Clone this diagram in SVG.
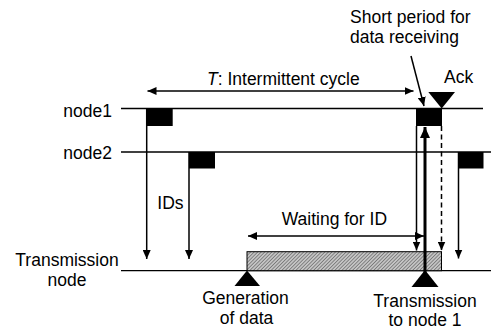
<svg xmlns="http://www.w3.org/2000/svg" width="491" height="331" viewBox="0 0 491 331">
<style>
text{font-family:"Liberation Sans",Arial,sans-serif;font-size:17.5px;fill:#000}
.ln{stroke:#000;stroke-width:1.3;fill:none}
.ar{stroke:#000;stroke-width:1.5;fill:none}
.box{fill:#000}
</style>
<defs>
<marker id="ah" markerUnits="userSpaceOnUse" markerWidth="10" markerHeight="8" refX="9" refY="4" orient="auto">
<path d="M0,0 L9,4 L0,8 Z" fill="#000"/>
</marker>
<marker id="ahs" markerUnits="userSpaceOnUse" markerWidth="10" markerHeight="8" refX="1" refY="4" orient="auto">
<path d="M10,0 L1,4 L10,8 Z" fill="#000"/>
</marker>
<marker id="ahb" markerUnits="userSpaceOnUse" markerWidth="12" markerHeight="12" refX="11" refY="6" orient="auto">
<path d="M0,1 L11,6 L0,11 Z" fill="#000"/>
</marker>
<pattern id="hatch" patternUnits="userSpaceOnUse" width="2.5" height="2.5" patternTransform="rotate(45)">
<rect width="2.5" height="2.5" fill="#c4c4c4"/>
<line x1="0" y1="0" x2="0" y2="2.5" stroke="#444" stroke-width="1"/>
</pattern>
</defs>

<g id="lanes">
<line class="ln" x1="121" y1="108.5" x2="483" y2="108.5"/>
<line class="ln" x1="121" y1="152" x2="491" y2="152"/>
<line class="ln" x1="121" y1="270.7" x2="491" y2="270.7"/>
</g>

<g id="labels">
<text x="112" y="116.5" text-anchor="end">node1</text>
<text x="112" y="159" text-anchor="end">node2</text>
<text x="67" y="266" text-anchor="middle">Transmission</text>
<text x="67" y="286" text-anchor="middle">node</text>
</g>

<g id="wait-bar">
<rect x="247" y="251.7" width="194.5" height="19" fill="url(#hatch)" stroke="#000" stroke-width="1"/>
</g>

<g id="node1-slot1"><rect class="box" x="146.7" y="108.5" width="26" height="17.5"/></g>
<g id="node2-slot1"><rect class="box" x="189" y="152" width="26" height="16.5"/></g>
<g id="node1-slot2"><rect class="box" x="416" y="108.5" width="26" height="17.5"/></g>
<g id="node2-slot2"><rect class="box" x="458" y="152" width="25.5" height="16.5"/></g>

<g id="ack"><polygon points="428.3,92 455,92 441.7,108.5" fill="#000"/><text x="444" y="82.7">Ack</text></g>

<g id="generation">
<polygon points="247,270.5 234.5,286 260,286" fill="#000"/>
<text x="245.5" y="304" text-anchor="middle">Generation</text>
<text x="246.5" y="324" text-anchor="middle">of data</text>
</g>

<g id="transmission">
<polygon points="425,270 411.5,287 438.5,287" fill="#000"/>
<text x="425" y="306.7" text-anchor="middle">Transmission</text>
<text x="425" y="326" text-anchor="middle">to node 1</text>
</g>

<g id="annotations">
<text x="207" y="85"><tspan font-style="italic">T</tspan>: Intermittent cycle</text>
<text x="350" y="23">Short period for</text>
<text x="350" y="43">data receiving</text>
<text x="157.3" y="209.3">IDs</text>
<text x="281.7" y="225">Waiting for ID</text>
</g>

<g id="connectors">
<line class="ar" x1="147.5" y1="91" x2="413.5" y2="91" marker-start="url(#ahs)" marker-end="url(#ah)"/>
<line class="ar" x1="248" y1="236" x2="424" y2="236" marker-start="url(#ahs)" marker-end="url(#ah)"/>
<line class="ar" x1="146.7" y1="108.5" x2="146.7" y2="259" marker-end="url(#ah)"/>
<line class="ar" x1="189" y1="152" x2="189" y2="259" marker-end="url(#ah)"/>
<line class="ar" x1="416.5" y1="126" x2="416.5" y2="250.5" marker-end="url(#ah)"/>
<line class="ar" x1="441.5" y1="126" x2="441.5" y2="250.5" stroke-dasharray="5,3.5" marker-end="url(#ah)"/>
<line class="ar" x1="458.5" y1="152" x2="458.5" y2="258.5" marker-end="url(#ah)"/>
<line x1="425" y1="280" x2="425" y2="127" stroke="#000" stroke-width="3" marker-end="url(#ahb)"/>
<line class="ar" x1="411" y1="56" x2="424" y2="106" marker-end="url(#ah)"/>
</g>
</svg>
